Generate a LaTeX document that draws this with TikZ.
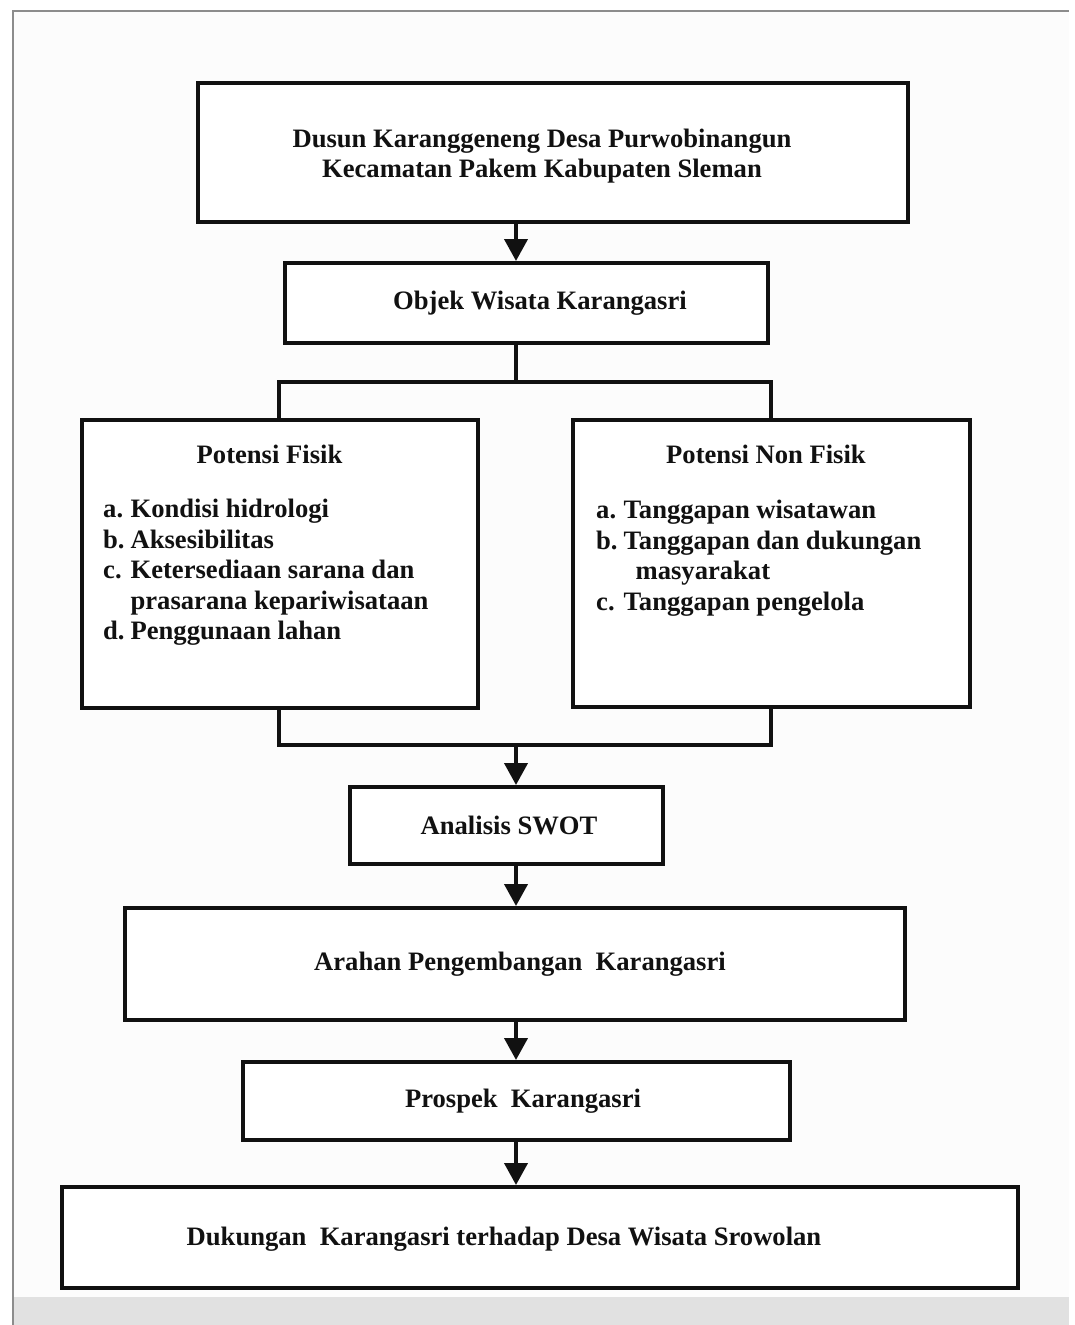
\documentclass[tikz,border=0pt]{standalone}
\usepackage{fontspec}
\setmainfont{Liberation Serif}
\usetikzlibrary{arrows.meta}
\definecolor{pagebg}{HTML}{FCFCFC}
\definecolor{framegray}{HTML}{8C8C8C}
\definecolor{stripgray}{HTML}{E1E1E1}
\definecolor{ink}{HTML}{111111}
\begin{document}
\begin{tikzpicture}[x=1pt,y=-1pt,
  box/.style={draw=ink, line width=4pt, fill=white, inner sep=0pt},
  lbl/.style={font=\fontsize{26.6}{30.5}\selectfont\bfseries, text=ink, inner sep=0pt, align=center},
  lst/.style={font=\fontsize{26.6}{30.5}\selectfont\bfseries, text=ink, inner sep=0pt, anchor=north west},
  link/.style={draw=ink, line width=4pt},
  arr/.style={link, -{Triangle[width=23pt,length=22pt]}}
]
\useasboundingbox (0,0) rectangle (1074,1325);
\fill[white] (0,0) rectangle (1074,1325);
\fill[pagebg] (12,10) rectangle (1069,1297);
\fill[stripgray] (12,1297) rectangle (1069,1325);
\draw[framegray, line width=2pt] (13,1325) -- (13,11) -- (1069,11);

% boxes
\node[box, minimum width=710pt, minimum height=139pt] (top) at (553,152.5) {};
\node[lbl] (toptxt) at (542,156) {Dusun Karanggeneng Desa Purwobinangun\\Kecamatan Pakem Kabupaten Sleman};

\node[box, minimum width=483pt, minimum height=80pt] (obj) at (526.5,303) {};
\node[lbl] (objtxt) at (540,303) {Objek Wisata Karangasri};

\node[box, minimum width=396pt, minimum height=288pt] (fis) at (280,564) {};
\node[lbl] (fistitle) at (269.5,454) {Potensi Fisik};
\node[lst] (fislist) at (103,496) {\begin{tabular}{@{}l@{\hspace{6pt}}l@{}}
a. & Kondisi hidrologi\\
b. & Aksesibilitas\\
c. & Ketersediaan sarana dan\\
   & prasarana kepariwisataan\\
d. & Penggunaan lahan
\end{tabular}};

\node[box, minimum width=397pt, minimum height=287pt] (non) at (771.5,563.5) {};
\node[lbl] (nontitle) at (766,454) {Potensi Non Fisik};
\node[lst] (nonlist) at (596,497) {\begin{tabular}{@{}l@{\hspace{6pt}}l@{}}
a. & Tanggapan wisatawan\\
b. & Tanggapan dan dukungan\\
   & \hspace{12pt}masyarakat\\
c. & Tanggapan pengelola
\end{tabular}};

\node[box, minimum width=313pt, minimum height=77pt] (swot) at (506.5,825.5) {};
\node[lbl] (swottxt) at (509,825.5) {Analisis SWOT};

\node[box, minimum width=780pt, minimum height=112pt] (arah) at (515,964) {};
\node[lbl] (arahtxt) at (520,964) {Arahan Pengembangan\ \ Karangasri};

\node[box, minimum width=547pt, minimum height=78pt] (pros) at (516.5,1101) {};
\node[lbl] (prostxt) at (523,1101) {Prospek\ \ Karangasri};

\node[box, minimum width=956pt, minimum height=101pt] (duk) at (540,1237.5) {};
\node[lbl] (duktxt) at (504,1239) {Dukungan\ \ Karangasri terhadap Desa Wisata Srowolan};

% connector helpers
\coordinate (axis) at (516,0);
\coordinate (colL) at (279,0);
\coordinate (colR) at (771,0);
\coordinate (splitT) at (516,382);
\coordinate (joinB) at (516,745);

% connectors
\draw[arr] (top.south -| axis) -- (obj.north -| axis);
\draw[link] (obj.south -| axis) -- (splitT);
\draw[link] (fis.north -| colL) -- (splitT -| colL) -- (splitT -| colR) -- (non.north -| colR);
\draw[link] (fis.south -| colL) -- (joinB -| colL) -- (joinB -| colR) -- (non.south -| colR);
\draw[arr] (joinB) -- (swot.north -| axis);
\draw[arr] (swot.south -| axis) -- (arah.north -| axis);
\draw[arr] (arah.south -| axis) -- (pros.north -| axis);
\draw[arr] (pros.south -| axis) -- (duk.north -| axis);
\end{tikzpicture}
\end{document}
